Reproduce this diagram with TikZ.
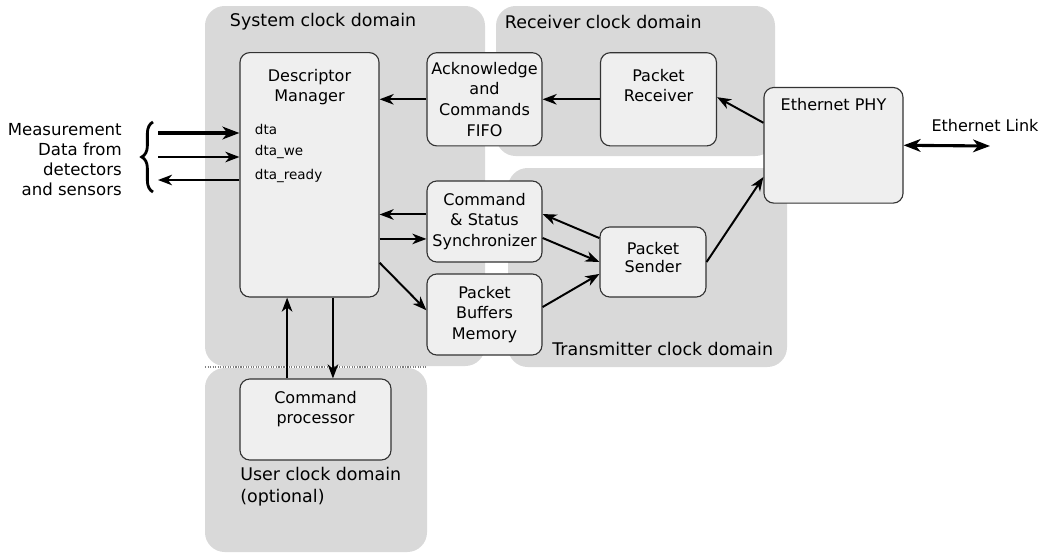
\documentclass[tikz,border=0pt]{standalone}
\usepackage{fontspec}
\setmainfont{DejaVu Sans}
\usetikzlibrary{arrows.meta,decorations.pathreplacing,positioning}

\definecolor{domeniu}{HTML}{D9D9D9}
\definecolor{bloc}{HTML}{EFEFEF}
\definecolor{contur}{HTML}{333333}

\tikzset{
  >={Stealth[length=10pt,width=7.5pt,inset=3pt]},
  clockdomain/.style={fill=domeniu, rounded corners=14pt},
  domainlabel/.style={font=\fontsize{12.4}{15.5}\selectfont},
  block/.style={draw=contur, fill=bloc, rounded corners=7pt, line width=0.8pt,
    align=center, inner sep=0pt},
  boxtitle/.style={anchor=north, yshift=-8.5pt, align=center},
  link/.style={line width=1.4pt, ->},
  biglink/.style={line width=2.2pt, >={Stealth[length=12pt,width=9pt,inset=3.5pt]}},
  txt/.style={font=\fontsize{11.4}{14.7}\selectfont},
  sig/.style={font=\fontsize{9.6}{11}\selectfont, anchor=west}
}

\begin{document}
\begin{tikzpicture}[x=0.025cm, y=-0.025cm, txt]
  \useasboundingbox (0,0) rectangle (1043,552);

  % domenii de ceas
  \fill[clockdomain] (205,6) rectangle (485,366);
  \fill[clockdomain] (496,6) rectangle (775,156);
  \fill[clockdomain] (508,168) rectangle (787,367);
  \fill[clockdomain] (205,368) rectangle (427,552);
  \draw[densely dotted, gray, line width=0.8pt] (205,367) -- (427,367);

  \node[domainlabel, anchor=west] (sysd) at (225,22) {System clock domain};
  \node[domainlabel, anchor=west] (rcvd) at (500,22) {Receiver clock domain};
  \node[domainlabel, anchor=east] (txd) at (778,349) {Transmitter clock domain};
  \node[domainlabel, anchor=north west, align=left, inner sep=0pt] (usrd) at (240,467)
    {User clock domain\\(optional)};

  % blocuri
  \node[block, minimum width=3.475cm, minimum height=6.11cm,
    label={[boxtitle]north:Descriptor\\Manager}] (dm) at (309.5,174.8) {};
  \node[block, minimum width=2.875cm, minimum height=2.33cm] (ack) at (484.5,99.3)
    {Acknowledge\\and\\Commands\\FIFO};
  \node[block, minimum width=2.9cm, minimum height=2.33cm,
    label={[boxtitle]north:Packet\\Receiver}] (rcv) at (658.5,99.3) {};
  \node[block, minimum width=3.475cm, minimum height=2.89cm,
    label={[boxtitle, yshift=4pt]north:Ethernet PHY}] (phy) at (833.5,145.3) {};
  \node[block, minimum width=2.875cm, minimum height=2.025cm] (sync) at (484.5,221.5)
    {Command\\\& Status\\Synchronizer};
  \node[block, minimum width=2.875cm, minimum height=2.025cm] (buf) at (484.5,314.5)
    {Packet\\Buffers\\Memory};
  \node[block, minimum width=2.65cm, minimum height=1.75cm] (snd) at (653,262)
    {\raisebox{6pt}{\shortstack{Packet\\[1pt]Sender}}};
  \node[block, minimum width=3.775cm, minimum height=2.025cm,
    label={[boxtitle, yshift=3pt]north:Command\\processor}] (cp) at (315.5,419.5) {};

  % semnale
  \node[sig] (dta) at (250,129) {dta};
  \node[sig] (dtawe) at (250,152) {dta\_we};
  \node[sig] (dtardy) at (250,176) {dta\_ready};
  \node[anchor=east, align=right, inner sep=0pt,
    font=\fontsize{11.8}{14.2}\selectfont] (meas) at (122,160)
    {Measurement\\Data from\\detectors\\and sensors};
  \draw[decorate, decoration={brace, amplitude=8pt}, line width=2pt]
    (153,192) -- (153,122);

  \coordinate (dtain) at (158,133);
  \coordinate (wein) at (158,157);
  \coordinate (rdyout) at (158,180);
  \coordinate (ethend) at (990,146);
  \node[anchor=south] (linkt) at (985,137) {Ethernet Link};

  % sageti
  \draw[link, biglink] (dtain) -- (dtain -| dm.west);
  \draw[link] (wein) -- (wein -| dm.west);
  \draw[link] (rdyout -| dm.west) -- (rdyout);

  \draw[link] (ack.west) -- (ack.west -| dm.east);
  \draw[link] (rcv.west) -- (ack.east);
  \draw[link] ([yshift=16pt]phy.west) -- ([yshift=1.5pt]rcv.east);
  \draw[link, biglink, <->] (phy.east) -- (ethend);

  \draw[link] ([yshift=5pt]sync.west) -- ([yshift=5pt]sync.west -| dm.east);
  \draw[link] ([yshift=-12.4pt]sync.west -| dm.east) -- ([yshift=-12.4pt]sync.west);
  \draw[link] ([yshift=-62.5pt]dm.east) -- ([yshift=3pt]buf.west);

  \draw[link] ([yshift=17pt]snd.west) -- ([yshift=5.3pt]sync.east);
  \draw[link] ([yshift=-11.7pt]sync.east) -- (snd.west);
  \draw[link] ([yshift=5.3pt]buf.east) -- ([yshift=-8.5pt]snd.west);
  \draw[link] (snd.east) -- ([yshift=-22.5pt]phy.west);

  \draw[link] ([xshift=-20.2pt]cp.north) -- ([xshift=-20.2pt]cp.north |- dm.south);
  \draw[link] ([xshift=12.4pt]cp.north |- dm.south) -- ([xshift=12.4pt]cp.north);
\end{tikzpicture}
\end{document}
